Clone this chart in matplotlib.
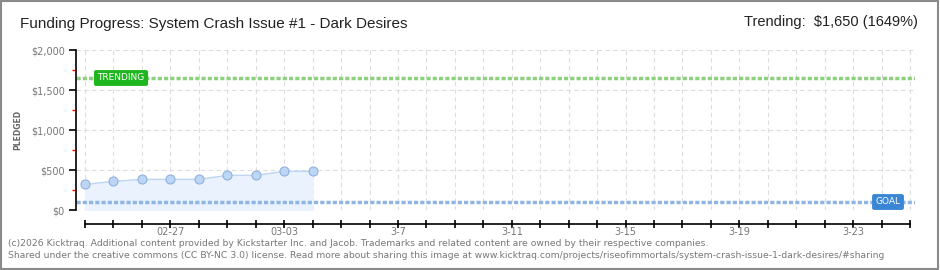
import matplotlib.pyplot as plt
import matplotlib.transforms as mtransforms
from matplotlib.patches import Rectangle
import numpy as np

# donnees
jours = ["02-24", "02-25", "02-26", "02-27", "02-28", "03-01", "03-02", "03-03", "03-04"]
promesses = [320, 358, 383, 383, 383, 433, 433, 483, 483]
objectif = 100
tendance = 1650
nb_jours = 29
etiquettes_x = ["02-27", "03-03", "3-7", "3-11", "3-15", "3-19", "3-23"]
pos_etiquettes = [3, 7, 11, 15, 19, 23, 27]
yticks = [0, 500, 1000, 1500, 2000]

W, H = 940, 270
fig = plt.figure(figsize=(W / 100, H / 100), dpi=100)
fig.patch.set_facecolor("white")
police_titre = ["Liberation Sans", "DejaVu Sans"]

# cadre gris autour de l'image
fig.add_artist(Rectangle((0.001, 0.002), 0.997, 0.995, transform=fig.transFigure,
                         fill=False, edgecolor="#8a8a8a", linewidth=1.5))

px_jour = 28.45
x0_px, x1_px = 76, 915
ax = fig.add_axes([x0_px / W, (H - 210) / H, (x1_px - x0_px) / W, 160 / H])
ax.set_xlim(-(85 - x0_px) / px_jour, (x1_px - 85) / px_jour)
ax.set_ylim(0, 2000)

x = np.arange(len(promesses))
ax.fill_between(x, 0, promesses, color="#eaf3fd", zorder=1)
ax.plot(x, promesses, color="#bcd6f3", linewidth=1, zorder=3)
ax.plot(x, promesses, "o", markersize=6.5, markerfacecolor="#bcd6f3",
        markeredgecolor="#8fb1df", markeredgewidth=0.8, zorder=4)

# lignes objectif et tendance
ax.axhline(objectif, color="#8fb6e3", linewidth=2.5, linestyle=(0, (1.2, 0.6)), zorder=2)
ax.axhline(tendance, color="#8fd080", linewidth=2.5, linestyle=(0, (1.2, 0.6)), zorder=2)

trans = mtransforms.blended_transform_factory(ax.transAxes, ax.transData)
ax.text((121 - x0_px) / (x1_px - x0_px), tendance, "TRENDING", transform=trans,
        ha="center", va="center", fontsize=6.5, color="white", family="DejaVu Sans",
        bbox=dict(boxstyle="round,pad=0.3,rounding_size=0.15", facecolor="#1fb51f",
                  edgecolor="#1fb51f"), zorder=5)
ax.text((888 - x0_px) / (x1_px - x0_px), objectif, "GOAL", transform=trans,
        ha="center", va="center", fontsize=6.5, color="white", family="DejaVu Sans",
        bbox=dict(boxstyle="round,pad=0.3,rounding_size=0.15", facecolor="#3a86d4",
                  edgecolor="#3a86d4"), zorder=5)

# grille
ax.set_xticks(np.arange(nb_jours + 1), minor=True)
ax.set_xticks(pos_etiquettes)
ax.set_xticklabels(etiquettes_x)
ax.set_yticks(yticks)
ax.set_yticklabels(["${:,}".format(v) for v in yticks])
ax.set_yticks([250, 750, 1250, 1750], minor=True)
ax.grid(True, which="both", axis="x", color="#dddddd", linestyle=(0, (4, 3)), linewidth=0.8)
ax.grid(True, which="major", axis="y", color="#dddddd", linestyle=(0, (4, 3)), linewidth=0.8)
ax.set_axisbelow(True)

for s in ["top", "right"]:
    ax.spines[s].set_visible(False)
ax.spines["bottom"].set_position(("outward", 10))
ax.spines["bottom"].set_bounds(0, nb_jours)
ax.spines["left"].set_linewidth(1.2)
ax.spines["bottom"].set_linewidth(1.2)
ax.tick_params(axis="x", which="both", direction="inout", length=6, width=1.2,
               labelsize=7, labelcolor="#777777", pad=-1)
ax.tick_params(axis="y", which="major", direction="out", length=5, width=1.2,
               labelsize=7, labelcolor="#777777", pad=3)
ax.tick_params(axis="y", which="minor", direction="out", length=3, width=1, color="red")

fig.text(18 / W, 1 - 130 / H, "PLEDGED", rotation=90, ha="center", va="center",
         fontsize=5.5, color="#666666", fontweight="bold")

# titres
fig.text(20 / W, 1 - 24 / H, "Funding Progress: System Crash Issue #1 - Dark Desires",
         ha="left", va="center", fontsize=11, color="#222222", family=police_titre)
fig.text(918 / W, 1 - 22 / H, "Trending:  $1,650 (1649%)",
         ha="right", va="center", fontsize=10.5, color="#222222", family=police_titre)

# pied de page
fig.text(8 / W, 1 - 243 / H,
         "(c)2026 Kicktraq. Additional content provided by Kickstarter Inc. and Jacob. "
         "Trademarks and related content are owned by their respective companies.",
         ha="left", va="center", fontsize=6.7, color="#777777")
fig.text(8 / W, 1 - 256 / H,
         "Shared under the creative commons (CC BY-NC 3.0) license. Read more about sharing "
         "this image at www.kicktraq.com/projects/riseofimmortals/system-crash-issue-1-dark-desires/#sharing",
         ha="left", va="center", fontsize=6.7, color="#777777")

fig.savefig("out.png", dpi=100)
